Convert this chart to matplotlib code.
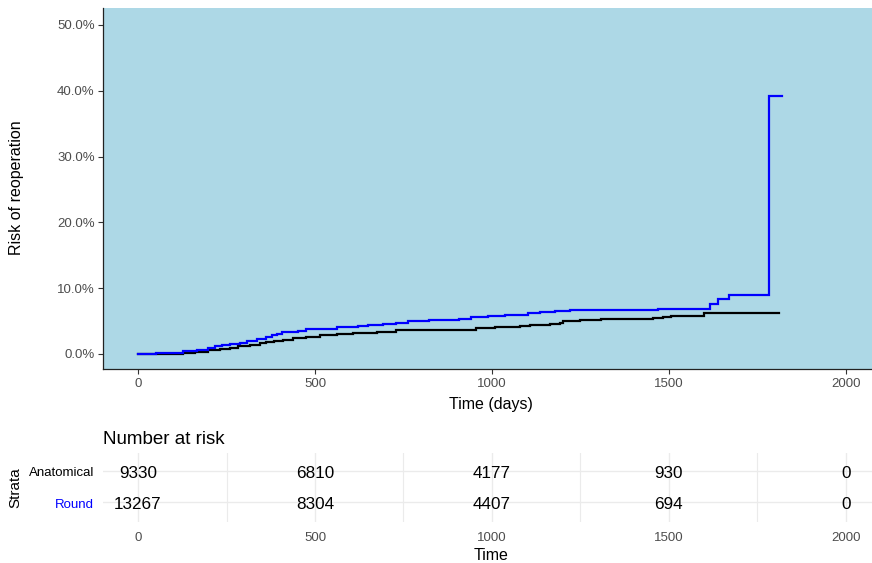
import matplotlib
matplotlib.use("Agg")
import matplotlib.pyplot as plt
from matplotlib.ticker import FuncFormatter
from matplotlib.transforms import ScaledTranslation, blended_transform_factory

plt.rcParams["font.family"] = ["Liberation Sans", "DejaVu Sans"]

W, H, DPI = 872, 563, 100

# Cumulative incidence of reoperation (percent) per stratum, step functions
strata = ["Anatomical", "Round"]
strata_colors = ["black", "blue"]

anatomical_time = [0, 127, 161, 198, 232, 260, 282, 316, 344, 363, 384, 410, 439,
                   476, 514, 561, 608, 674, 730, 782, 956, 1008, 1078, 1107, 1116,
                   1163, 1191, 1200, 1248, 1309, 1455, 1483, 1507, 1598, 1812]
anatomical_risk = [0.00, 0.20, 0.35, 0.56, 0.81, 0.96, 1.17, 1.41, 1.63, 1.82, 2.02,
                   2.17, 2.39, 2.63, 2.89, 3.09, 3.19, 3.39, 3.60, 3.72, 3.91, 4.06,
                   4.21, 4.36, 4.45, 4.60, 4.76, 4.97, 5.17, 5.36, 5.52, 5.67, 5.82,
                   6.23, 6.23]

round_time = [0, 51, 127, 166, 198, 217, 236, 260, 288, 307, 335, 363, 378, 392,
              406, 424, 453, 476, 523, 561, 622, 650, 693, 730, 763, 822, 907, 942,
              989, 1036, 1102, 1135, 1177, 1220, 1469, 1617, 1638, 1671, 1784, 1821]
round_risk = [0.00, 0.20, 0.41, 0.61, 0.87, 1.17, 1.37, 1.57, 1.72, 1.98, 2.23, 2.65,
              2.93, 3.09, 3.30, 3.39, 3.54, 3.75, 3.84, 4.06, 4.21, 4.36, 4.51, 4.71,
              5.02, 5.21, 5.36, 5.58, 5.73, 5.97, 6.19, 6.38, 6.53, 6.73, 6.88, 7.55,
              8.31, 8.97, 39.2, 39.2]

# Number-at-risk table
risk_times = [0, 500, 1000, 1500, 2000]
anatomical_at_risk = [9330, 6810, 4177, 930, 0]
round_at_risk = [13267, 8304, 4407, 694, 0]

x_ticks = [0, 500, 1000, 1500, 2000]
y_ticks = [0, 10, 20, 30, 40, 50]

XLIM = (-99, 2074)
TICK_GREY = "#4D4D4D"


def px_rect(x0, y0, x1, y1):
    return [x0 / W, 1 - y1 / H, (x1 - x0) / W, (y1 - y0) / H]


fig = plt.figure(figsize=(W / DPI, H / DPI), dpi=DPI)
# small downward nudge so table text sits on its row line
nudge = ScaledTranslation(0, -2.5 / DPI, fig.dpi_scale_trans)

# --- Main curve panel ---
ax = fig.add_axes(px_rect(103, 8, 872, 369))
ax.set_facecolor("#ADD8E6")
series = [(anatomical_time, anatomical_risk), (round_time, round_risk)]
for (t, r), c in zip(series, strata_colors):
    ax.step(t, r, where="post", color=c, lw=1.6, solid_joinstyle="miter")

ax.set_xlim(*XLIM)
ax.set_ylim(-2.28, 52.58)
ax.set_xticks(x_ticks)
ax.set_yticks(y_ticks)
ax.yaxis.set_major_formatter(FuncFormatter(lambda v, _: f"{v:.1f}%"))
for s in ("top", "right"):
    ax.spines[s].set_visible(False)
for s in ("left", "bottom"):
    ax.spines[s].set_color("#222222")
    ax.spines[s].set_linewidth(0.9)
ax.tick_params(axis="both", length=3.5, width=0.8, color="#333333",
               labelsize=9.5, labelcolor=TICK_GREY)
ax.tick_params(axis="x", pad=3)
ax.tick_params(axis="y", pad=2.5)

fig.text(491 / W, 1 - 405 / H, "Time (days)", ha="center", va="center",
         fontsize=11.5, color="black")
fig.text(17 / W, 1 - 188 / H, "Risk of reoperation", ha="center", va="center",
         rotation=90, fontsize=11.5, color="black")

# --- Number at risk table ---
tab = fig.add_axes(px_rect(103, 453, 872, 522))
tab.set_facecolor("white")
tab.set_xlim(*XLIM)
tab.set_ylim(0.37, 2.57)
for s in tab.spines.values():
    s.set_visible(False)

for xv in range(0, 2001, 250):
    major = xv % 500 == 0
    tab.axvline(xv, color="#EBEBEB", lw=1.0 if major else 0.8, zorder=0)
for yv in (1, 2):
    tab.axhline(yv, color="#EBEBEB", lw=1.0, zorder=0)

rows = [(2, anatomical_at_risk), (1, round_at_risk)]
for yrow, counts in rows:
    for xt, n in zip(risk_times, counts):
        tab.text(xt, yrow, f"{n}", ha="center", va="center", fontsize=12.3,
                 color="black", transform=tab.transData + nudge)

# stratum names to the left of each row
label_trans = blended_transform_factory(tab.transAxes, tab.transData) + nudge
for (yrow, _), name, c in zip(rows, strata, strata_colors):
    tab.text(-9 / 769, yrow, name, ha="right", va="center", fontsize=9.5,
             color=c, transform=label_trans, clip_on=False)

tab.set_xticks(x_ticks)
tab.set_yticks([])
tab.tick_params(axis="x", length=0, pad=7, labelsize=9.5, labelcolor=TICK_GREY)

fig.text(103 / W, 1 - 439 / H, "Number at risk", ha="left", va="center",
         fontsize=13.5, color="black")
fig.text(15 / W, 1 - 488 / H, "Strata", ha="center", va="center",
         rotation=90, fontsize=11, color="black")
fig.text(491 / W, 1 - 555 / H, "Time", ha="center", va="center",
         fontsize=11.5, color="black")

fig.savefig("out.png", dpi=DPI)
